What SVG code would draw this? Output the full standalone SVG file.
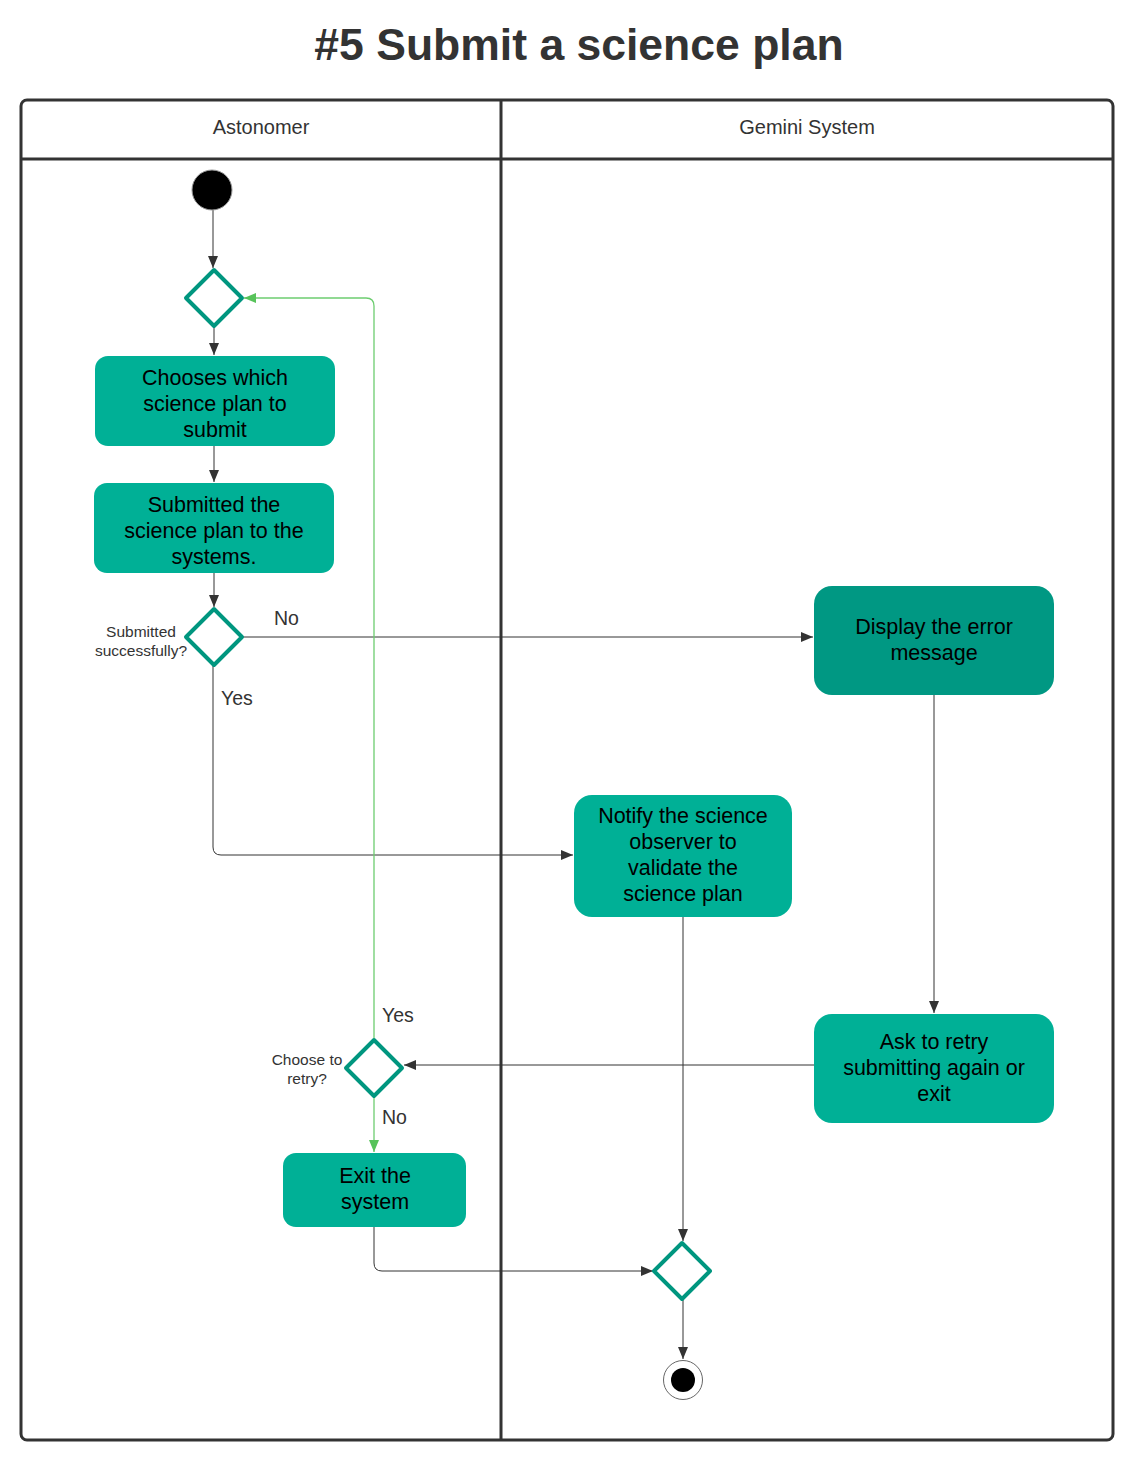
<svg xmlns="http://www.w3.org/2000/svg" width="1135" height="1461" viewBox="0 0 1135 1461">
<style>
text{font-family:"Liberation Sans",Arial,sans-serif;}
.title{font-size:44.5px;font-weight:bold;fill:#333;text-anchor:middle;}
.hdr{font-size:20px;fill:#333;text-anchor:middle;}
.box{fill:#00B096;}
.box2{fill:#009883;}
.bt{font-size:21.5px;fill:#000;text-anchor:middle;}
.dia{fill:#fff;stroke:#00967F;stroke-width:4;stroke-linejoin:round;}
.lbl{font-size:19.5px;fill:#333;}
.sl{font-size:15.5px;fill:#333;text-anchor:middle;}
.c{fill:none;stroke:#333;stroke-width:1;}
.g{fill:none;stroke:#6DCD70;stroke-width:1.3;}
</style>
<defs>
<marker id="ah" viewBox="0 0 12 10" refX="12" refY="5" markerWidth="12" markerHeight="10" markerUnits="userSpaceOnUse" orient="auto">
<path d="M0,0 L12,5 L0,10 Z" fill="#333"/>
</marker>
<marker id="ag" viewBox="0 0 12 10" refX="12" refY="5" markerWidth="12" markerHeight="10" markerUnits="userSpaceOnUse" orient="auto">
<path d="M0,0 L12,5 L0,10 Z" fill="#57C35A"/>
</marker>
</defs>
<rect width="1135" height="1461" fill="#fff"/>
<text class="title" x="579" y="60">#5 Submit a science plan</text>
<g id="lanes">
<rect x="21" y="100" width="1092" height="1340" rx="6" fill="none" stroke="#333" stroke-width="3"/>
<line x1="21" y1="159" x2="1113" y2="159" stroke="#333" stroke-width="3"/>
<line x1="501" y1="100" x2="501" y2="1440" stroke="#333" stroke-width="3"/>
<text class="hdr" x="261" y="134">Astonomer</text>
<text class="hdr" x="807" y="134">Gemini System</text>
</g>
<g id="connectors">
<line class="c" x1="213" y1="210" x2="213" y2="268" marker-end="url(#ah)"/>
<line class="c" x1="214" y1="327" x2="214" y2="355" marker-end="url(#ah)"/>
<line class="c" x1="214" y1="446" x2="214" y2="482" marker-end="url(#ah)"/>
<line class="c" x1="214" y1="573" x2="214" y2="607" marker-end="url(#ah)"/>
<line class="c" x1="243" y1="637" x2="813" y2="637" marker-end="url(#ah)"/>
<path class="c" d="M213,666 V847 Q213,855 221,855 H573" marker-end="url(#ah)"/>
<line class="c" x1="934" y1="695" x2="934" y2="1013" marker-end="url(#ah)"/>
<line class="c" x1="814" y1="1065" x2="404" y2="1065" marker-end="url(#ah)"/>
<line class="c" x1="683" y1="917" x2="683" y2="1241" marker-end="url(#ah)"/>
<path class="c" d="M374,1227 V1263 Q374,1271 382,1271 H653" marker-end="url(#ah)"/>
<line class="c" x1="683" y1="1300" x2="683" y2="1359" marker-end="url(#ah)"/>
<path class="g" d="M374,1039 V306 Q374,298 366,298 H244" marker-end="url(#ag)"/>
<line class="g" x1="374" y1="1097" x2="374" y2="1152" marker-end="url(#ag)"/>
<text class="lbl" x="274" y="625">No</text>
<text class="lbl" x="221" y="705">Yes</text>
<text class="lbl" x="382" y="1022">Yes</text>
<text class="lbl" x="382" y="1124">No</text>
</g>
<g id="start"><circle cx="212" cy="190" r="20" fill="#000" stroke="#999" stroke-width="1"/></g>
<g id="merge1"><path class="dia" d="M214,270 L242,298 L214,326 L186,298 Z"/></g>
<g id="choose">
<rect class="box" x="95" y="356" width="240" height="90" rx="13"/>
<text class="bt" x="215" y="385">Chooses which</text>
<text class="bt" x="215" y="411">science plan to</text>
<text class="bt" x="215" y="437">submit</text>
</g>
<g id="submitted">
<rect class="box" x="94" y="483" width="240" height="90" rx="13"/>
<text class="bt" x="214" y="512">Submitted the</text>
<text class="bt" x="214" y="538">science plan to the</text>
<text class="bt" x="214" y="564">systems.</text>
</g>
<g id="decision1">
<path class="dia" d="M214,609 L242,637 L214,665 L186,637 Z"/>
<text class="sl" x="141" y="637">Submitted</text>
<text class="sl" x="141" y="656">successfully?</text>
</g>
<g id="error">
<rect class="box2" x="814" y="586" width="240" height="109" rx="18"/>
<text class="bt" x="934" y="634">Display the error</text>
<text class="bt" x="934" y="660">message</text>
</g>
<g id="notify">
<rect class="box" x="574" y="795" width="218" height="122" rx="18"/>
<text class="bt" x="683" y="823">Notify the science</text>
<text class="bt" x="683" y="849">observer to</text>
<text class="bt" x="683" y="875">validate the</text>
<text class="bt" x="683" y="901">science plan</text>
</g>
<g id="retry">
<rect class="box" x="814" y="1014" width="240" height="109" rx="18"/>
<text class="bt" x="934" y="1049">Ask to retry</text>
<text class="bt" x="934" y="1075">submitting again or</text>
<text class="bt" x="934" y="1101">exit</text>
</g>
<g id="decision2">
<path class="dia" d="M374,1040 L402,1068 L374,1096 L346,1068 Z"/>
<text class="sl" x="307" y="1065">Choose to</text>
<text class="sl" x="307" y="1084">retry?</text>
</g>
<g id="exit">
<rect class="box" x="283" y="1153" width="183" height="74" rx="13"/>
<text class="bt" x="375" y="1183">Exit the</text>
<text class="bt" x="375" y="1209">system</text>
</g>
<g id="merge2"><path class="dia" d="M682,1243 L710,1271 L682,1299 L654,1271 Z"/></g>
<g id="end">
<circle cx="683" cy="1380" r="19.5" fill="#fff" stroke="#666" stroke-width="1"/>
<circle cx="683" cy="1380" r="12" fill="#000"/>
</g>
</svg>
